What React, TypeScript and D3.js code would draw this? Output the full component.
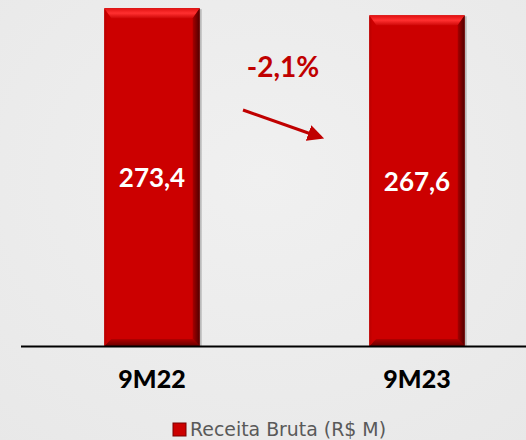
import React from "react";
import * as d3 from "d3";

const categories = ["9M22", "9M23"];
const values = [273.4, 267.6];
const valueLabels = ["273,4", "267,6"];
const changeLabel = "-2,1%";
const seriesName = "Receita Bruta (R$ M)";

const W = 526, H = 440;

export default function App() {
  const x = d3.scaleBand<string>().domain(categories).range([19.5, 549.5]).paddingInner(0.64).paddingOuter(0.32);
  const y = d3.scaleLinear().domain([0, 280]).range([346, 0]);
  const bw = x.bandwidth();
  const bev = 7;
  return (
    <div style={{ position: "absolute", left: 0, top: 0 }}>
      <svg width={W} height={H} style={{ display: "block" }}>
        <defs>
          <radialGradient id="bg" cx="0.5" cy="0.4" r="0.8">
            <stop offset="0" stopColor="#f0f0f0" />
            <stop offset="1" stopColor="#e8e8e8" />
          </radialGradient>
          <linearGradient id="topBev" x1="0" y1="0" x2="0" y2="1">
            <stop offset="0" stopColor="#e01010" />
            <stop offset="0.5" stopColor="#ff3030" />
            <stop offset="1" stopColor="#d00808" />
          </linearGradient>
          <linearGradient id="botBev" x1="0" y1="0" x2="0" y2="1">
            <stop offset="0" stopColor="#b00000" />
            <stop offset="1" stopColor="#6a0000" />
          </linearGradient>
          <linearGradient id="rightBev" x1="0" y1="0" x2="1" y2="0">
            <stop offset="0" stopColor="#a00000" />
            <stop offset="1" stopColor="#3a0000" />
          </linearGradient>
          <linearGradient id="leftBev" x1="0" y1="0" x2="1" y2="0">
            <stop offset="0" stopColor="#b80000" />
            <stop offset="1" stopColor="#cc0000" />
          </linearGradient>
          <marker id="arrow" viewBox="0 0 10 10" refX="8" refY="5" markerWidth="5.5" markerHeight="5.5" orient="auto">
            <path d="M0,0 L10,5 L0,10 z" fill="#c00000" />
          </marker>
        </defs>
        <rect x={0} y={0} width={W} height={H} fill="url(#bg)" />
        {categories.map((c, i) => {
          const x0 = x(c)!;
          const y0 = y(values[i]);
          const y1 = y(0);
          const x1 = x0 + bw;
          return (
            <g key={c}>
              <rect x={x0 + 2} y={y0 + 1} width={bw} height={y1 - y0 - 1} fill="#9a9a9a" opacity={0.6} />
              <rect x={x0} y={y0} width={bw} height={y1 - y0} fill="#cc0000" />
              <path d={`M${x0},${y0} L${x1},${y0} L${x1 - bev},${y0 + bev + 3} L${x0 + bev},${y0 + bev + 3} Z`} fill="url(#topBev)" />
              <path d={`M${x0},${y1} L${x1},${y1} L${x1 - bev},${y1 - bev} L${x0 + bev},${y1 - bev} Z`} fill="url(#botBev)" />
              <path d={`M${x1},${y0} L${x1},${y1} L${x1 - bev},${y1 - bev} L${x1 - bev},${y0 + bev + 3} Z`} fill="url(#rightBev)" opacity={0.85} />
              <path d={`M${x0},${y0} L${x0},${y1} L${x0 + 3},${y1 - 3} L${x0 + 3},${y0 + bev} Z`} fill="url(#leftBev)" />
              <text x={x0 + bw / 2} y={(y0 + y1) / 2 + 10} textAnchor="middle" fill="#ffffff" fontFamily="Lato" fontWeight="bold" fontSize={26}>{valueLabels[i]}</text>
              <text x={x0 + bw / 2} y={388} textAnchor="middle" fill="#000000" fontFamily="Lato" fontWeight={900} fontSize={25}>{c}</text>
            </g>
          );
        })}
        <line x1={21} x2={W} y1={346.5} y2={346.5} stroke="#000" strokeWidth={2} />
        <text x={283} y={77} textAnchor="middle" fill="#c00000" fontFamily="Lato" fontWeight="bold" fontSize={28}>{changeLabel}</text>
        <line x1={243} y1={110} x2={321} y2={137.5} stroke="#c00000" strokeWidth={3} markerEnd="url(#arrow)" />
        <rect x={173} y={423} width={13} height={13} fill="#cc0000" stroke="#7a0000" strokeWidth={1} />
        <text x={190} y={436} fill="#595959" fontFamily="DejaVu Sans" fontSize={19} textLength={196} lengthAdjust="spacingAndGlyphs">{seriesName}</text>
      </svg>
    </div>
  );
}
